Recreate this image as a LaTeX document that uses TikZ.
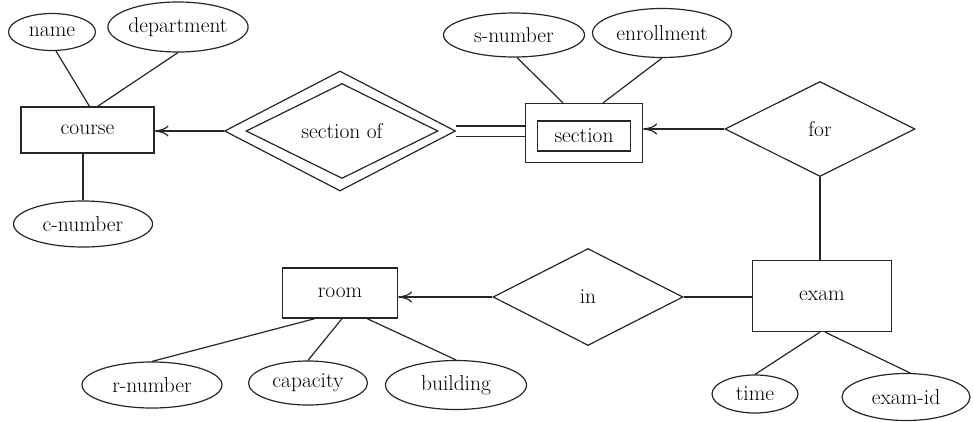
\documentclass[tikz,border=0pt]{standalone}
\usetikzlibrary{shapes.geometric,arrows.meta}
\tikzset{
  every node/.style={font=\fontsize{21.5}{25}\selectfont, inner sep=0pt},
  attr/.style={draw, ellipse},
  ent/.style={draw, rectangle},
  rel/.style={draw, diamond, aspect=2},
  conn/.style={line width=1.2pt, draw=black!85},
  arr/.style={conn, -{To[length=14pt,width=11pt]}},
}
\begin{document}
\begin{tikzpicture}[x=1pt,y=-1pt, line width=1.2pt, draw=black!85]
\useasboundingbox (0,0) rectangle (973,421);
% entities
\node[ent, minimum width=133pt, minimum height=46pt] (course) at (87.5,130) {course};
\node[ent, minimum width=117pt, minimum height=59pt] (section) at (584,133) {};
\node[ent, minimum width=93pt, minimum height=30pt] (sectionin) at (584,136) {section};
\node[ent, minimum width=115pt, minimum height=50pt] (room) at (340,293) {room};
\node[ent, minimum width=139pt, minimum height=71pt] (exam) at (822,296) {exam};
% relationships
\node[rel, minimum width=231pt, minimum height=120pt] (secof) at (340,131) {};
\node[rel, minimum width=192pt, minimum height=95pt] (secofin) at (342,131) {section of};
\node[rel, minimum width=190pt, minimum height=95pt] (for) at (820,129) {for};
\node[rel, minimum width=190pt, minimum height=97pt] (in) at (588,297) {in};
% attributes
\node[attr, minimum width=87pt, minimum height=37pt] (name) at (52,32) {name};
\node[attr, minimum width=140pt, minimum height=50pt] (dept) at (178,27) {department};
\node[attr, minimum width=139pt, minimum height=46pt] (cnum) at (83,224) {c-number};
\node[attr, minimum width=141pt, minimum height=44pt] (snum) at (514,35) {s-number};
\node[attr, minimum width=139pt, minimum height=49pt] (enroll) at (662,33) {enrollment};
\node[attr, minimum width=140pt, minimum height=46pt] (rnum) at (152,385) {r-number};
\node[attr, minimum width=119pt, minimum height=44pt] (cap) at (308,383) {capacity};
\node[attr, minimum width=141pt, minimum height=49pt] (bld) at (456,385) {building};
\node[attr, minimum width=86pt, minimum height=38pt] (time) at (755,394) {time};
\node[attr, minimum width=128pt, minimum height=47pt] (examid) at (906,397) {exam-id};
% connectors
\draw[arr] (secof.west) -- (secof.west -| course.east);
\draw[conn, double, double distance=9pt] (secof.east) -- (secof.east -| section.west);
\draw[arr] (for.west) -- (for.west -| section.east);
\draw[conn] (for.south) -- (for.south |- exam.north);
\draw[arr] (in.west) -- (in.west -| room.east);
\draw[conn] (in.east) -- (in.east -| exam.west);
% attribute lines
\draw[conn] ([xshift=4pt]name.south) -- ([xshift=2pt]course.north);
\draw[conn] (dept.south) -- ([xshift=10pt]course.north);
\draw[conn] (cnum.north) -- (cnum.north |- course.south);
\draw[conn] ([xshift=3pt]snum.south) -- ([xshift=-21pt]section.north);
\draw[conn] (enroll.south) -- ([xshift=19pt]section.north);
\draw[conn] (rnum.north) -- ([xshift=-25pt]room.south);
\draw[conn] (cap.north) -- ([xshift=2pt]room.south);
\draw[conn] (bld.north) -- ([xshift=27pt]room.south);
\draw[conn] (time.north) -- ([xshift=-2pt]exam.south);
\draw[conn] ([xshift=4pt]examid.north) -- ([xshift=3pt]exam.south);
\end{tikzpicture}
\end{document}
